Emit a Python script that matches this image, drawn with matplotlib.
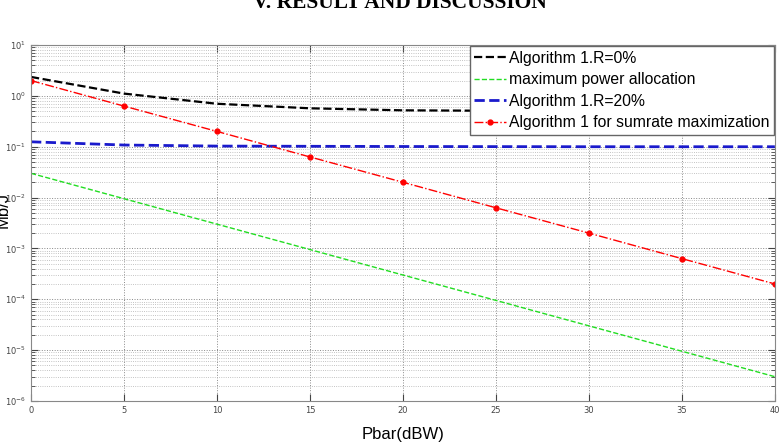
import numpy as np
import matplotlib.pyplot as plt
from matplotlib.ticker import LogLocator, NullFormatter, MultipleLocator

# data
pbar = [0, 5, 10, 15, 20, 25, 30, 35, 40]
alg_r0 = [2.36, 1.11, 0.70, 0.57, 0.52, 0.51, 0.505, 0.50, 0.50]
max_power = [3.0e-2, 9.5e-3, 3.0e-3, 9.5e-4, 3.0e-4, 9.5e-5, 3.0e-5, 9.5e-6, 3.0e-6]
alg_r20 = [0.125, 0.108, 0.103, 0.102, 0.101, 0.1005, 0.1, 0.1, 0.1]
alg_sumrate = [2.0, 0.63, 0.2, 0.063, 0.02, 0.0063, 0.002, 0.00063, 0.0002]

labels = ['Algorithm 1.R=0%', 'maximum power allocation',
          'Algorithm 1.R=20%', 'Algorithm 1 for sumrate maximization']

fig = plt.figure(figsize=(7.83, 4.46), dpi=100)
ax = fig.add_axes([0.0396, 0.101, 0.950, 0.798])

ax.semilogy(pbar, alg_r0, color='black', ls='--', lw=1.6, label=labels[0])
ax.semilogy(pbar, max_power, color='#22dd22', ls='--', lw=1.0, label=labels[1])
ax.semilogy(pbar, alg_r20, color='#1a1acc', ls='--', lw=2.0, label=labels[2])
ax.semilogy(pbar, alg_sumrate, color='red', ls='-.', lw=1.0, marker='o',
            ms=3.5, label=labels[3])

ax.set_xlim(0, 40)
ax.set_ylim(1e-6, 1e1)
ax.xaxis.set_major_locator(MultipleLocator(5))
ax.yaxis.set_major_locator(LogLocator(base=10, numticks=10))
ax.yaxis.set_minor_locator(LogLocator(base=10, subs=np.arange(2, 10), numticks=100))
ax.yaxis.set_minor_formatter(NullFormatter())

# matlab style dotted grid
ax.grid(True, which='major', ls=':', color='#888888', lw=0.7)
ax.grid(True, which='minor', axis='y', ls=':', color='#b0b0b0', lw=0.6)
ax.tick_params(which='both', direction='in', labelsize=6, colors='#444444',
               right=True, top=True)
ax.tick_params(which='major', length=5)
ax.tick_params(which='minor', length=3)
for s in ax.spines.values():
    s.set_color('#888888')
    s.set_linewidth(0.8)

ax.set_xlabel('Pbar(dBW)', fontsize=12, family='Liberation Sans', labelpad=9)
fig.text(0.004, 0.53, 'Mb/J', rotation=90, fontsize=12, family='Liberation Sans',
         ha='center', va='center')

leg = ax.legend(loc='upper right', handlelength=2.0,
                handletextpad=0.2, borderpad=0.3, labelspacing=0.42,
                fancybox=False, framealpha=1, edgecolor='#666666',
                borderaxespad=0.05, prop={'family': 'Liberation Sans', 'size': 11.3})

fig.text(0.511, 1 - 8 / 446, 'V. RESULT AND DISCUSSION', fontsize=15.5,
         weight='bold', family='Liberation Serif', ha='center', va='baseline')

fig.savefig('out.png', dpi=100)
